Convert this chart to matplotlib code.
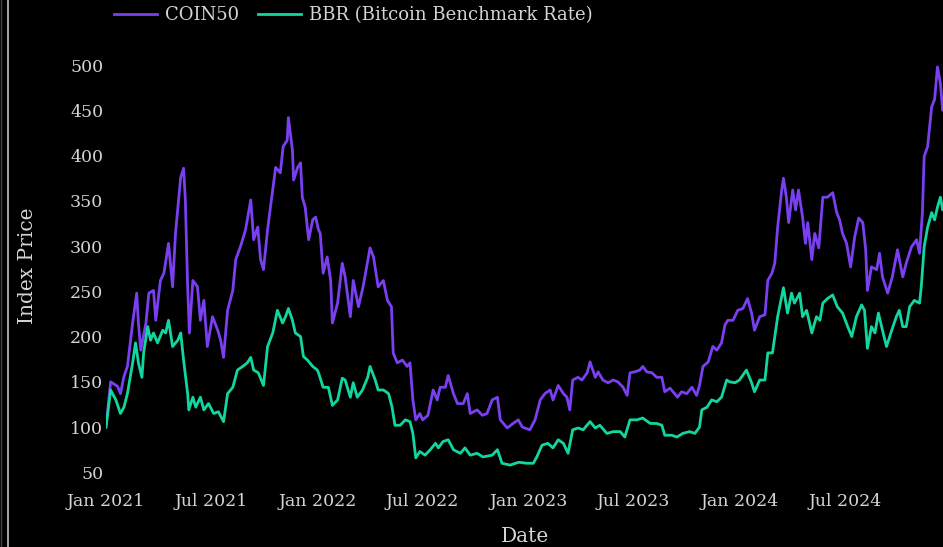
import numpy as np
import pandas as pd
import matplotlib
matplotlib.use("Agg")
import matplotlib.pyplot as plt
import matplotlib.dates as mdates
from matplotlib.lines import Line2D

# ======= data =======
coin_dates = [
    "2021-01-01", "2021-01-09", "2021-01-21", "2021-01-26", "2021-02-01", "2021-02-07",
    "2021-02-16", "2021-02-23", "2021-02-26", "2021-03-02", "2021-03-11", "2021-03-16",
    "2021-03-24", "2021-03-28", "2021-04-05", "2021-04-11", "2021-04-19", "2021-04-26",
    "2021-05-01", "2021-05-10", "2021-05-15", "2021-05-18", "2021-05-22", "2021-05-25",
    "2021-05-31", "2021-06-08", "2021-06-13", "2021-06-19", "2021-06-25", "2021-07-04",
    "2021-07-13", "2021-07-18", "2021-07-23", "2021-07-30", "2021-08-08", "2021-08-13",
    "2021-08-21", "2021-08-30", "2021-09-08", "2021-09-13", "2021-09-20", "2021-09-25",
    "2021-09-30", "2021-10-07", "2021-10-12", "2021-10-21", "2021-10-29", "2021-11-03",
    "2021-11-10", "2021-11-12", "2021-11-19", "2021-11-21", "2021-11-28", "2021-12-03",
    "2021-12-06", "2021-12-11", "2021-12-17", "2021-12-24", "2021-12-29", "2022-01-03",
    "2022-01-06", "2022-01-11", "2022-01-18", "2022-01-24", "2022-01-27", "2022-02-05",
    "2022-02-13", "2022-02-18", "2022-02-27", "2022-03-04", "2022-03-13", "2022-03-21",
    "2022-04-02", "2022-04-08", "2022-04-16", "2022-04-25", "2022-05-02", "2022-05-09",
    "2022-05-12", "2022-05-19", "2022-05-28", "2022-06-05", "2022-06-10", "2022-06-15",
    "2022-06-20", "2022-06-27", "2022-07-02", "2022-07-11", "2022-07-20", "2022-07-27",
    "2022-08-01", "2022-08-10", "2022-08-15", "2022-08-24", "2022-08-31", "2022-09-10",
    "2022-09-17", "2022-09-22", "2022-10-04", "2022-10-13", "2022-10-21", "2022-10-30",
    "2022-11-08", "2022-11-13", "2022-11-25", "2022-12-05", "2022-12-14", "2022-12-21",
    "2023-01-03", "2023-01-12", "2023-01-21", "2023-01-29", "2023-02-07", "2023-02-12",
    "2023-02-21", "2023-03-02", "2023-03-08", "2023-03-13", "2023-03-18", "2023-03-27",
    "2023-04-03", "2023-04-12", "2023-04-17", "2023-04-26", "2023-05-01", "2023-05-09",
    "2023-05-18", "2023-05-27", "2023-06-04", "2023-06-13", "2023-06-20", "2023-06-25",
    "2023-07-03", "2023-07-12", "2023-07-17", "2023-07-24", "2023-08-02", "2023-08-10",
    "2023-08-19", "2023-08-24", "2023-09-02", "2023-09-10", "2023-09-15", "2023-09-22",
    "2023-10-01", "2023-10-10", "2023-10-18", "2023-10-23", "2023-10-29", "2023-11-07",
    "2023-11-15", "2023-11-22", "2023-11-30", "2023-12-06", "2023-12-11", "2023-12-20",
    "2023-12-28", "2024-01-06", "2024-01-14", "2024-01-21", "2024-01-26", "2024-02-04",
    "2024-02-13", "2024-02-18", "2024-02-25", "2024-03-01", "2024-03-06", "2024-03-13",
    "2024-03-16", "2024-03-21", "2024-03-25", "2024-04-01", "2024-04-06", "2024-04-11",
    "2024-04-18", "2024-04-23", "2024-04-27", "2024-05-04", "2024-05-09", "2024-05-16",
    "2024-05-23", "2024-05-31", "2024-06-09", "2024-06-16", "2024-06-21", "2024-06-26",
    "2024-07-03", "2024-07-10", "2024-07-17", "2024-07-24", "2024-07-31", "2024-08-05",
    "2024-08-08", "2024-08-15", "2024-08-24", "2024-08-29", "2024-09-03", "2024-09-12",
    "2024-09-20", "2024-09-29", "2024-10-08", "2024-10-14", "2024-10-23", "2024-11-01",
    "2024-11-06", "2024-11-11", "2024-11-14", "2024-11-20", "2024-11-27", "2024-12-02",
    "2024-12-07", "2024-12-12", "2024-12-16", "2024-12-20",
]
coin_vals = [
    100, 150, 145, 137, 156, 167,
    215, 248, 215, 185, 215, 248,
    251, 218, 262, 270, 303, 255,
    314, 376, 386, 351, 255, 204,
    262, 255, 218, 240, 189, 222,
    207, 196, 177, 229, 251, 285,
    299, 318, 351, 307, 321, 285,
    274, 318, 343, 387, 381, 410,
    417, 442, 406, 373, 387, 392,
    354, 343, 307, 329, 332, 318,
    314, 270, 288, 262, 215, 237,
    281, 266, 222, 262, 233, 255,
    298, 288, 255, 262, 240, 233,
    182, 171, 174, 167, 171, 130,
    108, 115, 108, 113, 141, 130,
    144, 144, 157, 137, 126, 126,
    137, 115, 119, 113, 115, 130,
    133, 108, 99, 104, 108, 100,
    97, 108, 130, 137, 141, 130,
    146, 137, 133, 119, 152, 155,
    152, 160, 172, 155, 161, 152,
    149, 152, 150, 144, 135, 160,
    161, 163, 167, 161, 160, 155,
    155, 139, 143, 137, 133, 139,
    137, 144, 135, 146, 167, 172,
    189, 185, 193, 213, 218, 218,
    229, 231, 242, 226, 207, 222,
    224, 262, 270, 281, 321, 362,
    375, 354, 326, 362, 340, 362,
    332, 303, 326, 285, 314, 298,
    354, 354, 359, 337, 329, 314,
    303, 277, 310, 331, 326, 296,
    251, 277, 274, 292, 266, 248,
    266, 296, 266, 281, 299, 307,
    292, 337, 399, 410, 454, 462,
    498, 480, 450, 465,
]

bbr_dates = [
    "2021-01-01", "2021-01-09", "2021-01-18", "2021-01-26", "2021-02-01", "2021-02-07",
    "2021-02-16", "2021-02-21", "2021-02-26", "2021-03-04", "2021-03-07", "2021-03-14",
    "2021-03-19", "2021-03-24", "2021-03-31", "2021-04-09", "2021-04-14", "2021-04-19",
    "2021-04-26", "2021-05-05", "2021-05-10", "2021-05-15", "2021-05-22", "2021-05-24",
    "2021-05-31", "2021-06-05", "2021-06-13", "2021-06-19", "2021-06-27", "2021-07-06",
    "2021-07-14", "2021-07-23", "2021-07-30", "2021-08-08", "2021-08-16", "2021-08-25",
    "2021-09-02", "2021-09-08", "2021-09-13", "2021-09-21", "2021-09-30", "2021-10-07",
    "2021-10-16", "2021-10-24", "2021-11-02", "2021-11-07", "2021-11-12", "2021-11-19",
    "2021-11-24", "2021-12-03", "2021-12-08", "2021-12-15", "2021-12-24", "2022-01-01",
    "2022-01-03", "2022-01-11", "2022-01-20", "2022-01-27", "2022-02-05", "2022-02-13",
    "2022-02-18", "2022-02-27", "2022-03-04", "2022-03-11", "2022-03-20", "2022-03-29",
    "2022-04-02", "2022-04-11", "2022-04-16", "2022-04-25", "2022-05-04", "2022-05-10",
    "2022-05-15", "2022-05-24", "2022-06-02", "2022-06-10", "2022-06-15", "2022-06-20",
    "2022-06-27", "2022-07-06", "2022-07-15", "2022-07-24", "2022-07-29", "2022-08-06",
    "2022-08-15", "2022-08-24", "2022-09-05", "2022-09-13", "2022-09-22", "2022-10-04",
    "2022-10-14", "2022-10-30", "2022-11-08", "2022-11-16", "2022-11-30", "2022-12-14",
    "2022-12-17", "2022-12-29", "2023-01-09", "2023-01-15", "2023-01-24", "2023-02-03",
    "2023-02-12", "2023-02-21", "2023-03-02", "2023-03-10", "2023-03-18", "2023-03-27",
    "2023-04-05", "2023-04-17", "2023-04-26", "2023-05-04", "2023-05-16", "2023-05-27",
    "2023-06-08", "2023-06-16", "2023-06-25", "2023-07-07", "2023-07-17", "2023-07-30",
    "2023-08-10", "2023-08-19", "2023-08-24", "2023-09-05", "2023-09-14", "2023-09-24",
    "2023-10-06", "2023-10-15", "2023-10-23", "2023-10-27", "2023-11-05", "2023-11-13",
    "2023-11-22", "2023-11-30", "2023-12-09", "2023-12-14", "2023-12-23", "2023-12-31",
    "2024-01-12", "2024-01-21", "2024-01-26", "2024-02-04", "2024-02-13", "2024-02-18",
    "2024-02-26", "2024-03-06", "2024-03-13", "2024-03-16", "2024-03-23", "2024-03-30",
    "2024-04-04", "2024-04-13", "2024-04-18", "2024-04-25", "2024-05-04", "2024-05-12",
    "2024-05-18", "2024-05-23", "2024-05-31", "2024-06-09", "2024-06-17", "2024-06-26",
    "2024-07-05", "2024-07-12", "2024-07-20", "2024-07-29", "2024-08-03", "2024-08-08",
    "2024-08-15", "2024-08-21", "2024-08-27", "2024-09-03", "2024-09-10", "2024-09-19",
    "2024-09-27", "2024-10-02", "2024-10-08", "2024-10-14", "2024-10-20", "2024-10-28",
    "2024-11-06", "2024-11-09", "2024-11-14", "2024-11-20", "2024-11-27", "2024-12-02",
    "2024-12-07", "2024-12-12", "2024-12-16", "2024-12-20",
]
bbr_vals = [
    100, 141, 130, 115, 122, 137,
    171, 193, 171, 155, 182, 211,
    196, 204, 193, 207, 204, 218,
    189, 196, 204, 174, 137, 119,
    133, 122, 133, 119, 126, 115,
    117, 106, 137, 144, 163, 167,
    171, 177, 163, 160, 146, 189,
    204, 229, 215, 222, 231, 218,
    204, 200, 178, 174, 167, 163,
    160, 144, 144, 124, 130, 154,
    152, 133, 149, 133, 141, 155,
    167, 152, 141, 141, 137, 122,
    102, 102, 108, 106, 93, 66,
    73, 69, 75, 82, 77, 84,
    86, 75, 71, 77, 69, 71,
    67, 69, 75, 60, 58, 61,
    61, 60, 60, 67, 80, 82,
    77, 86, 82, 71, 97, 99,
    97, 106, 99, 102, 93, 95,
    95, 89, 108, 108, 110, 104,
    104, 102, 91, 91, 89, 93,
    95, 93, 100, 119, 122, 130,
    128, 133, 152, 150, 149, 152,
    163, 149, 139, 152, 152, 182,
    182, 222, 244, 254, 226, 248,
    237, 248, 222, 229, 204, 222,
    218, 237, 242, 246, 233, 226,
    211, 200, 222, 235, 229, 187,
    211, 204, 226, 207, 189, 207,
    222, 229, 211, 211, 233, 240,
    237, 255, 299, 321, 337, 329,
    343, 354, 340, 345,
]

series_names = ["COIN50", "BBR (Bitcoin Benchmark Rate)"]
series_colors = ["#7B3FF2", "#12D6A0"]
y_ticks = [50, 100, 150, 200, 250, 300, 350, 400, 450, 500]
# ================================================

W, H = 943, 547
TXT = "#d4d4d4"

plt.rcParams["font.family"] = ["DejaVu Serif"]

fig = plt.figure(figsize=(W / 100, H / 100), dpi=100, facecolor="black")
# axes placed in pixel terms (left, bottom, width, height)
ax = fig.add_axes([106 / W, 1 - 485 / H, (945 - 106) / W, (485 - 47) / H])
ax.set_facecolor("black")

c_d = pd.to_datetime(coin_dates)
b_d = pd.to_datetime(bbr_dates)
ax.plot(c_d, coin_vals, color=series_colors[0], lw=2.0, label=series_names[0])
ax.plot(b_d, bbr_vals, color=series_colors[1], lw=2.0, label=series_names[1])

ax.set_xlim(c_d.min(), c_d.max())
ax.set_ylim(36, 520)
ax.set_yticks(y_ticks)

ax.xaxis.set_major_locator(mdates.MonthLocator(bymonth=[1, 7]))
ax.xaxis.set_major_formatter(mdates.DateFormatter("%b %Y"))

for s in ax.spines.values():
    s.set_visible(False)
ax.tick_params(axis="both", length=0, colors=TXT, labelsize=12.5)
ax.tick_params(axis="y", pad=2)
ax.tick_params(axis="x", pad=6)

ax.set_xlabel("Date", color=TXT, fontsize=14.5)
ax.set_ylabel("Index Price", color=TXT, fontsize=14.5)
ax.xaxis.set_label_coords(0.5, -0.095)
ax.yaxis.set_label_coords(-0.082, 0.5)

leg = fig.legend(loc="center left", bbox_to_anchor=(114 / W, 1 - 15 / H),
                 ncol=2, frameon=False, fontsize=13, handlelength=2.4,
                 handletextpad=0.45, columnspacing=1.0, borderpad=0,
                 borderaxespad=0)
for t in leg.get_texts():
    t.set_color(TXT)

# thin vertical rules at the left edge of the picture
fig.add_artist(Line2D([1 / W, 1 / W], [0, 1], transform=fig.transFigure,
                      color="#444444", lw=1))
fig.add_artist(Line2D([8 / W, 8 / W], [0, 1], transform=fig.transFigure,
                      color="#b0b0b0", lw=1.3))

fig.savefig("out.png", dpi=100, facecolor="black")
